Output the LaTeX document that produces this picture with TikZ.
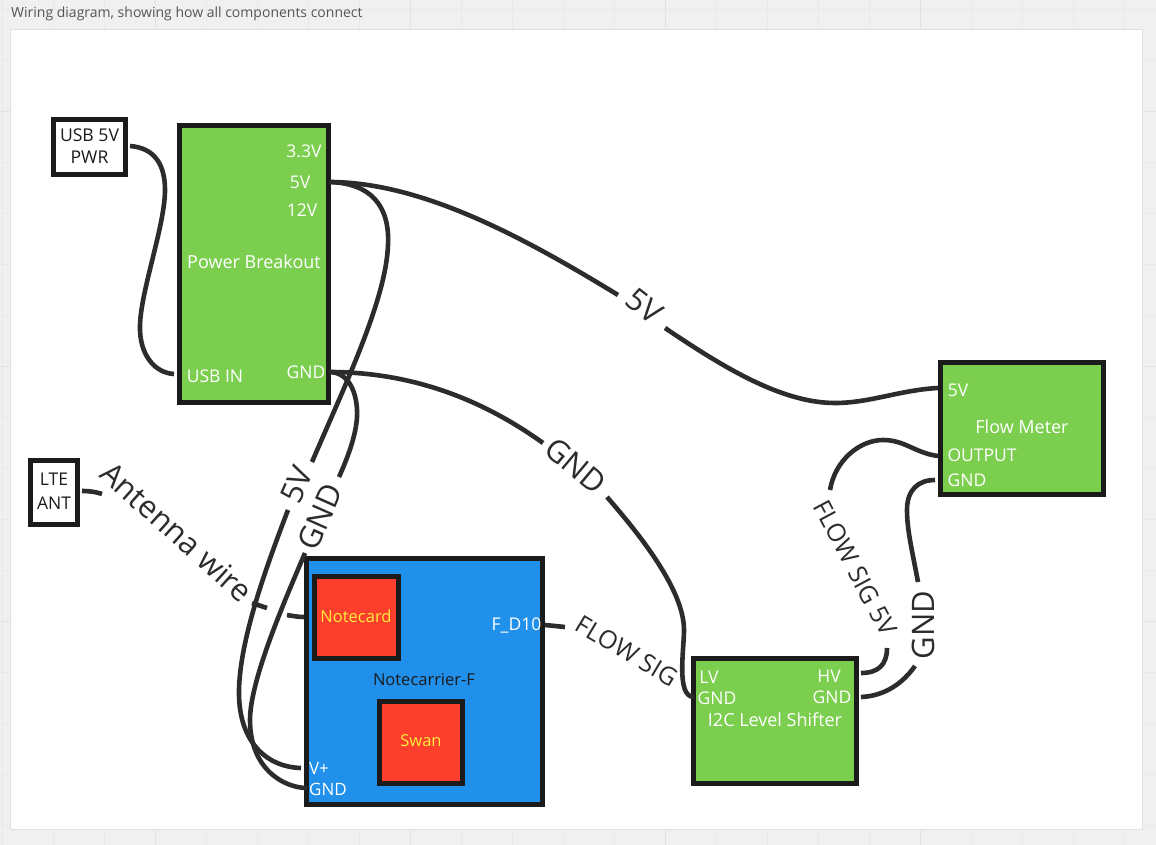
\documentclass[tikz,border=0pt]{standalone}
\usepackage{fontspec}
\setmainfont{Open Sans}
\definecolor{bgc}{HTML}{F0F0F0}
\definecolor{gridc}{HTML}{E9E9E9}
\definecolor{gridm}{HTML}{E2E2E2}
\definecolor{panelb}{HTML}{E0E0E0}
\definecolor{wirec}{HTML}{2C2C2C}
\definecolor{edgec}{HTML}{1B1B1B}
\definecolor{greenc}{HTML}{7BCE4E}
\definecolor{bluec}{HTML}{2090EA}
\definecolor{redc}{HTML}{FC3F2C}
\definecolor{yelc}{HTML}{FFEB3B}
\definecolor{titlec}{HTML}{555555}
\newcommand{\fs}[1]{\fontsize{#1}{#1}\selectfont}
\tikzset{
 x=1pt,y=-1pt,
 box/.style={draw=edgec,line width=5pt,inner sep=0pt,outer sep=0pt},
 wire/.style={draw=wirec,line width=4.6pt,line cap=butt},
 boxtext/.style={inner sep=0pt,text=white,font=\fs{17.5}},
 headtext/.style={inner sep=0pt,text=white,font=\fs{18}},
 bluetext/.style={inner sep=0pt,text=white,font=\fs{17}},
 darktext/.style={inner sep=0pt,text=edgec,font=\fs{16.5}},
 cardtext/.style={inner sep=0pt,text=yelc,font=\fs{16.5}},
 biglabel/.style={inner sep=0pt,text=wirec,font=\fs{31}},
 midlabel/.style={inner sep=0pt,text=wirec,font=\fs{25}},
}
\begin{document}
\begin{tikzpicture}
\useasboundingbox (0,0) rectangle (1156,845);
\fill[bgc] (0,0) rectangle (1156,845);
\foreach \k in {0,...,22} {\draw[gridc,line width=.8pt] ({2+51*\k},0) -- ({2+51*\k},845);}
\foreach \k in {0,...,16} {\draw[gridc,line width=.8pt] (0,{9+51*\k}) -- (1156,{9+51*\k});}
\foreach \k in {3,8,13,18} {\draw[gridm,line width=.8pt] ({2+51*\k},0) -- ({2+51*\k},845);}
\foreach \k in {2,7,12} {\draw[gridm,line width=.8pt] (0,{9+51*\k}) -- (1156,{9+51*\k});}
\node[anchor=west,inner sep=0pt,text=titlec,font=\fs{14}] (title) at (11,14) {Wiring diagram, showing how all components connect};
\draw[panelb,fill=white,line width=1pt] (10,29.5) rectangle (1142,829);

% boxes
\node[box,fill=white,minimum width=72pt,minimum height=55pt] (usb) at (89.5,147) {};
\node[box,fill=greenc,minimum width=149pt,minimum height=277pt] (power) at (254,264) {};
\node[box,fill=white,minimum width=47pt,minimum height=64pt] (lte) at (54,492.5) {};
\node[box,fill=bluec,minimum width=236pt,minimum height=246pt] (carrier) at (424.5,681.5) {};
\node[box,fill=redc,minimum width=84pt,minimum height=82pt] (notecard) at (356.5,617.5) {};
\node[box,fill=redc,minimum width=83pt,minimum height=82pt] (swan) at (421,742.5) {};
\node[box,fill=greenc,minimum width=163pt,minimum height=125pt] (shifter) at (775,721) {};
\node[box,fill=greenc,minimum width=163pt,minimum height=132pt] (flow) at (1022,428.5) {};

% ports
\coordinate (pUsbOut) at (130,146);
\coordinate (pUsbIn) at (174,374);
\coordinate (p5V) at (329,182);
\coordinate (pGnd) at (329,372);
\coordinate (pFlow5) at (938,388);
\coordinate (pFlowOut) at (938,456);
\coordinate (pFlowGnd) at (935,480);
\coordinate (pVplus) at (301,768);
\coordinate (pCGnd) at (307,788);
\coordinate (pLvGnd) at (694,697);
\coordinate (pHv) at (861,673);
\coordinate (pHGnd) at (861,697);
\coordinate (pLte) at (82,491);
\coordinate (pFd) at (545,625);
\coordinate (pCard) at (304,617);

% wire-label nodes
\node[biglabel,rotate=-42] (lAnt) at (177,532) {Antenna wire};
\node[biglabel,rotate=-38] (l5a) at (644,306) {5V};
\node[biglabel,rotate=-40] (lGa) at (576,466) {GND};
\node[biglabel,rotate=66] (l5b) at (297,485) {5V};
\node[biglabel,rotate=66] (lGb) at (320,517) {GND};
\node[midlabel,rotate=-31] (lFs) at (627,651) {FLOW SIG};
\node[midlabel,rotate=-62] (lFv) at (855,568) {FLOW SIG 5V};
\node[biglabel,rotate=90] (lGc) at (923,625) {GND};

% wires
\draw[wire] (pUsbOut) .. controls (155,148) and (165,165) .. (165,190) .. controls (165,225) and (141,290) .. (140,325) .. controls (139,355) and (155,373) .. (pUsbIn);
\draw[wire] (p5V) .. controls (420,182) and (520,235) .. (618,295);
\draw[wire] (665,328) .. controls (720,365) and (780,403) .. (835,403) .. controls (870,403) and (900,390) .. (pFlow5);
\draw[wire] (p5V) .. controls (370,183) and (390,205) .. (388,245) .. controls (386,300) and (345,385) .. (312,462);
\draw[wire] (288,510) .. controls (265,570) and (240,640) .. (239,690) .. controls (238,740) and (265,767) .. (pVplus);
\draw[wire] (pGnd) .. controls (350,372) and (358,395) .. (357,417) .. controls (356,435) and (348,457) .. (339,477);
\draw[wire] (305,553) .. controls (285,600) and (250,680) .. (250,720) .. controls (250,770) and (285,788) .. (pCGnd);
\draw[wire] (pGnd) .. controls (420,372) and (490,405) .. (543,443);
\draw[wire] (607,497) .. controls (640,535) and (684,590) .. (684,630) .. controls (684,650) and (676,697) .. (pLvGnd);
\draw[wire] (pLte) .. controls (90,491) and (96,492) .. (102,494);
\draw[wire] (252,603) -- (267,608);
\draw[wire] (287,615) .. controls (293,616) and (298,617) .. (pCard);
\draw[wire] (pFd) -- (565,627);
\draw[wire] (pHv) .. controls (878,673) and (887,665) .. (887,648);
\draw[wire] (830,490) .. controls (835,460) and (860,440) .. (883,440) .. controls (905,440) and (915,453) .. (pFlowOut);
\draw[wire] (pHGnd) .. controls (885,696) and (903,683) .. (915,666);
\draw[wire] (918,582) .. controls (912,550) and (907,530) .. (907,510) .. controls (907,490) and (918,480) .. (pFlowGnd);

% box texts
\node[inner sep=0pt,text=edgec,font=\fs{17.6},align=center] (tUsb) at (89.5,146) {USB 5V\\[5pt]PWR};
\node[inner sep=0pt,text=edgec,font=\fs{17.5},align=center] (tLte) at (54,491) {LTE\\[7pt]ANT};
\node[boxtext] (t33) at (304,151) {3.3V};
\node[boxtext] (t5) at (300,182) {5V};
\node[boxtext] (t12) at (302,210) {12V};
\node[headtext] (tPow) at (254,262) {Power Breakout};
\node[boxtext] (tUin) at (215,376) {USB IN};
\node[boxtext] (tPg) at (306,372) {GND};
\node[cardtext] (tCard) at (356,616) {Notecard};
\node[cardtext] (tSwan) at (421,741) {Swan};
\node[darktext] (tCar) at (424,680) {Notecarrier-F};
\node[boxtext] (tFd) at (516.5,625) {F\_D10};
\node[bluetext] (tVp) at (319,768) {V+};
\node[bluetext] (tCg) at (328,789) {GND};
\node[boxtext] (tLv) at (709,677) {LV};
\node[boxtext] (tLg) at (717,698) {GND};
\node[boxtext] (tHv) at (829,676) {HV};
\node[boxtext] (tHg) at (832,697) {GND};
\node[headtext] (tI2c) at (775,720) {I2C Level Shifter};
\node[boxtext] (tF5) at (958,390) {5V};
\node[headtext] (tFm) at (1022,427) {Flow Meter};
\node[boxtext] (tFo) at (982,455) {OUTPUT};
\node[boxtext] (tFg) at (967,480) {GND};
\end{tikzpicture}
\end{document}
